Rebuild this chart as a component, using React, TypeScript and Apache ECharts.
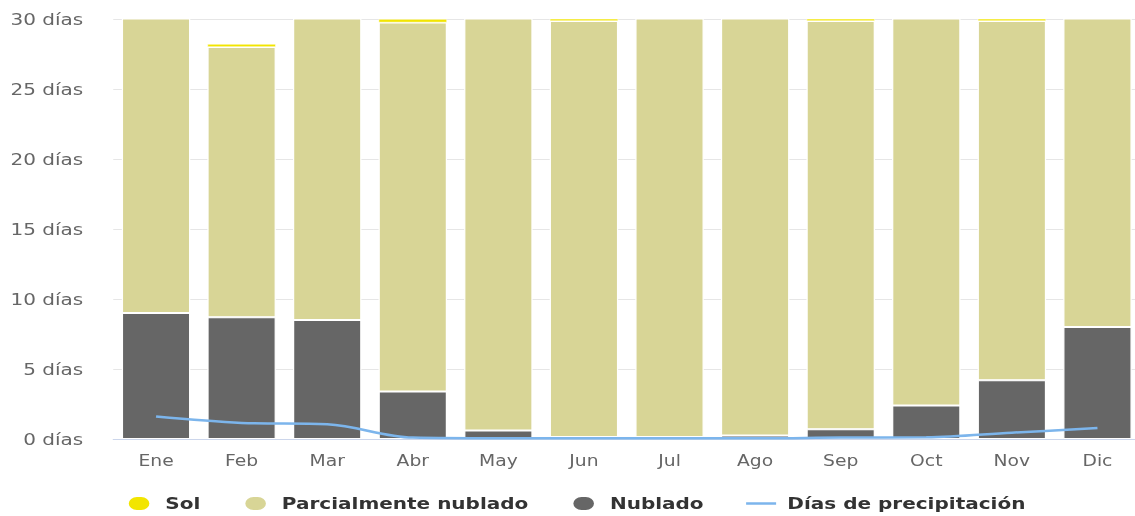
import React, { useEffect, useRef } from "react";
import * as echarts from "echarts";

const months = ["Ene", "Feb", "Mar", "Abr", "May", "Jun", "Jul", "Ago", "Sep", "Oct", "Nov", "Dic"];
const nublado = [9.0, 8.7, 8.5, 3.4, 0.6, 0.15, 0.15, 0.25, 0.7, 2.4, 4.2, 8.0];
const parcial = [22.0, 19.3, 22.5, 26.35, 30.4, 29.7, 30.85, 30.75, 29.15, 28.6, 25.65, 23.0];
const sol = [0, 0.22, 0, 0.25, 0, 0.18, 0, 0, 0.18, 0, 0.18, 0];
const precip = [1.6, 1.15, 1.05, 0.1, 0.05, 0.05, 0.05, 0.05, 0.1, 0.12, 0.45, 0.78];

const FONT = "DejaVu Sans";
const PILL = "path://M7.5,0 H11 A7.5,7.5 0 0 1 11,15 H7.5 A7.5,7.5 0 0 1 7.5,0 Z";
const LINE_ICON = "path://M0,0 H24 V2.5 H0 Z";

export default function App() {
  const ref = useRef<HTMLDivElement>(null);
  useEffect(() => {
    if (!ref.current) return;
    const chart = echarts.init(ref.current, null, { renderer: "svg" });
    const barBase = {
      type: "bar" as const,
      stack: "dias",
      barCategoryGap: "20%",
      clip: true,
    };
    chart.setOption({
      animation: false,
      textStyle: { fontFamily: FONT },
      grid: { left: 90.6, top: 19, width: 821.6, height: 420, containLabel: false },
      legend: {
        left: 101,
        top: 495,
        padding: 0,
        itemWidth: 24,
        itemHeight: 15,
        itemGap: 34,
        textStyle: { fontFamily: FONT, fontWeight: "bold", fontSize: 16, color: "#333", padding: [0, 0, 0, 4] },
        data: [
          { name: "Sol", icon: PILL },
          { name: "Parcialmente nublado", icon: PILL },
          { name: "Nublado", icon: PILL },
          { name: "Días de precipitación", icon: LINE_ICON },
        ],
      },
      xAxis: {
        type: "category",
        data: months,
        axisLine: { show: true, lineStyle: { color: "#ccd6eb", width: 1 } },
        axisTick: { show: false },
        axisLabel: { color: "#666", fontSize: 15, fontFamily: FONT, margin: 14 },
        splitLine: { show: false },
      },
      yAxis: {
        type: "value",
        min: 0,
        max: 30,
        interval: 5,
        axisLine: { show: false },
        axisTick: { show: false },
        axisLabel: { color: "#666", fontSize: 16, fontFamily: FONT, margin: 24, formatter: "{value} días" },
        splitLine: { show: true, lineStyle: { color: "#e6e6e6", width: 1 } },
      },
      series: [
        {
          ...barBase,
          name: "Nublado",
          data: nublado,
          itemStyle: { color: "#666666", borderColor: "#ffffff", borderWidth: 1 },
        },
        {
          ...barBase,
          name: "Parcialmente nublado",
          data: parcial,
          itemStyle: { color: "#d8d596", borderColor: "#ffffff", borderWidth: 1 },
        },
        {
          ...barBase,
          name: "Sol",
          data: sol,
          itemStyle: { color: "#f2e500", borderColor: "#ffffff", borderWidth: 0.5 },
        },
        {
          type: "line",
          name: "Días de precipitación",
          data: precip,
          smooth: 0.35,
          symbol: "none",
          z: 5,
          itemStyle: { color: "#7cb5ec" },
          lineStyle: { color: "#7cb5ec", width: 2.5 },
        },
      ],
    });
    return () => chart.dispose();
  }, []);
  return (
    <div
      ref={ref}
      style={{
        position: "fixed",
        left: 0,
        top: 0,
        width: 920,
        height: 516,
        transform: "scaleX(1.25)",
        transformOrigin: "0 0",
      }}
    />
  );
}
